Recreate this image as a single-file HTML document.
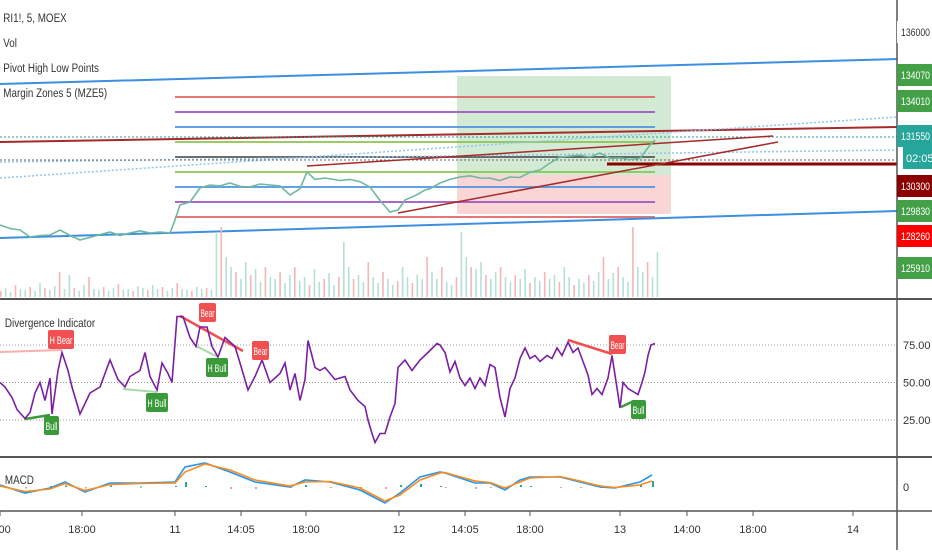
<!DOCTYPE html>
<html><head><meta charset="utf-8">
<style>
html,body{margin:0;padding:0;background:#fff;}
body{width:932px;height:550px;overflow:hidden;font-family:"Liberation Sans",sans-serif;}
svg text{font-family:"Liberation Sans",sans-serif;}
</style></head>
<body>
<svg id="chart" width="932" height="550" viewBox="0 0 932 550" xmlns="http://www.w3.org/2000/svg">
<rect x="0" y="0" width="932" height="550" fill="#ffffff"/>
<!-- margin zone boxes -->
<rect x="457" y="76" width="214" height="99" fill="#c8e6c9" opacity="0.8"/>
<rect x="457" y="175" width="214" height="39" fill="#f8d0d0" opacity="0.9"/>
<g id="overlay"></g>
<g id="volume"></g>
<g id="price"></g>
<g id="div"></g>
<g id="macd"></g>
<!-- separators -->
<line x1="0" y1="299" x2="932" y2="299" stroke="#555" stroke-width="2"/>
<line x1="0" y1="457" x2="932" y2="457" stroke="#555" stroke-width="2"/>
<line x1="0" y1="511" x2="932" y2="511" stroke="#555" stroke-width="1.5"/>
<line x1="897" y1="0" x2="897" y2="550" stroke="#555" stroke-width="1.5"/>
<g id="axes"></g>
<g font-size="12" fill="#333">
<text x="4" y="22" transform="scale(0.82,1)">RI1!, 5, MOEX</text>
<text x="4" y="47" transform="scale(0.82,1)">Vol</text>
<text x="4" y="72" transform="scale(0.82,1)">Pivot High Low Points</text>
<text x="4" y="97" transform="scale(0.82,1)">Margin Zones 5 (MZE5)</text>
<text x="6" y="327" transform="scale(0.82,1)">Divergence Indicator</text>
<text x="6" y="484" transform="scale(0.82,1)">MACD</text>
</g>
</svg>
<script>
// ---- data ----
const priceX = [0,10,20,30,40,50,60,70,80,95,110,120,130,140,150,160,170,175,180,190,200,210,220,230,240,250,260,270,280,290,300,307,315,325,340,350,360,370,380,390,398,405,415,425,430,440,450,460,470,480,490,500,510,520,530,540,550,560,570,580,590,600,610,620,630,640,650,655];
const priceVals = [127749,127600,127535,127236,127300,127322,127535,127300,127108,127279,127450,127300,127407,127500,127407,127450,127407,127963,128604,128732,129331,129459,129420,129545,129400,129374,129500,129459,129420,129032,129300,130015,129700,129758,129650,129700,129600,129374,128800,128305,128390,128818,129000,129245,129300,129545,129700,129801,129850,129758,129750,129650,129800,129780,130000,130100,130400,130656,130700,130742,130650,130827,130600,130613,130550,130600,131169,131383];
const volVals = [6,9,5,12,8,7,10,6,14,9,7,11,25,8,22,9,6,12,20,8,7,10,6,9,13,7,8,6,11,9,7,12,8,10,6,9,14,8,7,6,10,8,9,7,65,70,40,30,25,18,35,22,28,15,30,20,18,25,14,22,30,16,20,12,28,15,18,24,12,20,55,30,18,22,15,35,20,14,25,18,12,16,30,20,14,22,18,40,25,18,30,15,12,20,65,40,30,28,35,22,18,25,30,20,15,22,18,28,14,20,16,25,18,22,15,30,20,12,18,14,22,16,25,40,18,24,30,20,15,70,30,25,35,20,45];
const divX = [0,5,12,17,25,30,35,40,45,50,52,58,62,68,72,80,90,100,110,118,125,130,140,145,150,157,162,168,172,177,183,190,196,200,207,212,218,225,235,240,248,255,262,270,280,285,290,295,300,305,308,315,320,325,335,345,350,358,365,368,372,375,380,385,390,395,398,405,412,420,428,437,440,445,450,455,460,465,470,475,480,485,490,495,500,505,510,515,520,525,530,535,540,547,552,557,562,568,573,578,583,588,592,597,602,608,612,618,620,623,628,633,638,642,645,648,651,655];
const divVals = [50,47,40,32,26,30,43,50,38,53,29,58,70,58,47,29,43,47,65,52,47,54,58,70,54,45,63,56,50,94,94,80,74,87,87,74,67,80,74,63,45,54,65,50,56,63,45,56,38,52,78,60,58,60,52,54,45,38,34,25,16,10,16,16,27,36,60,65,58,65,70,76,75,70,57,64,53,48,53,46,53,48,62,60,40,27,46,53,66,73,66,68,64,68,66,73,68,77,70,73,64,55,42,46,42,53,68,42,33,50,46,44,42,50,57,68,75,76];
const divTicks = [75,50,25];
const macdX = [0,25,50,65,85,110,140,175,185,205,230,255,290,305,330,360,385,400,420,440,445,475,490,505,520,530,560,580,600,615,640,652];
const macdVals = [20,-60,-10,50,-50,40,40,50,200,240,150,50,0,70,50,-30,-160,-60,100,150,140,40,40,-30,70,100,100,50,0,-10,50,120];
const signalVals = [10,-45,-20,35,-35,25,35,40,150,230,170,70,10,50,55,-10,-140,-80,70,140,145,60,45,-10,50,90,105,60,10,-5,20,60];
const timeLabels = ["8:00","18:00","11","14:05","18:00","12","14:05","18:00","13","14:00","18:00","14"];
const timePos = [0,82,175,241,306,399,465,530,620,687,753,853];

// ---- scales ----
const yPrice = p => 32 + (136000 - p) * 0.02339;
const yDiv = v => 345 + (75 - v) * 1.5;
const yMacd = v => 487 - v * 0.1;
const NS = "http://www.w3.org/2000/svg";
function mk(tag, parent, attrs){const e=document.createElementNS(NS,tag);for(const k in attrs)e.setAttribute(k,attrs[k]);parent.appendChild(e);return e;}

// overlays
const ov = document.getElementById('overlay');
const zones = [[97,'#e06060'],[112,'#9b4fc0'],[127,'#4a90e2'],[142,'#8bc34a'],[157,'#555'],[172,'#8bc34a'],[187,'#4a90e2'],[202,'#9b4fc0'],[217,'#e06060']];
zones.forEach(z=>{
 const l=mk('line',ov,{x1:175,y1:z[0],x2:655,y2:z[0],stroke:z[1],'stroke-width':2,opacity:0.85});
 
 
});
const lines = [
 [0,84,897,59,'#3d8fe0',2,''],
 [0,238,897,211,'#3d8fe0',2,''],
 [0,142,897,127,'#a52a2a',2,''],
 [0,137,897,137,'#2a9d8f',1,'2,2'],
 [0,178,897,117,'#90c4f0',1.5,'2,2'],
 [0,162,897,150,'#90c4f0',1.5,'2,2'],
 [0,160,897,160,'#666',1,'2,2'],
 [607,164,897,164,'#8b0000',3,''],
 [307,166,773,136,'#a52a2a',1.5,''],
 [398,213,778,142,'#a52a2a',1.5,'']
];
lines.forEach(a=>{
 const l=mk('line',ov,{x1:a[0],y1:a[1],x2:a[2],y2:a[3],stroke:a[4],'stroke-width':a[5]});
 if(a[6]) l.setAttribute('stroke-dasharray',a[6]);
 
 
});

// volume
const vg=document.getElementById('volume');
volVals.forEach((h,i)=>{
 const x=i*4.9;
 const r=mk('rect',vg,{x:x,y:297-h,width:1.6,height:h,fill:(i%3===0)?'#f4b6b6':'#b6dfd6'});
 
 
});

// price
const pg=document.getElementById('price');
let pd='';priceX.forEach((x,i)=>{pd+=(i?'L':'M')+x+' '+yPrice(priceVals[i]).toFixed(1);});
const pl=mk('path',pg,{d:pd,fill:'none',stroke:'#6fb8a0','stroke-width':1.6});



// divergence
const dg=document.getElementById('div');
divTicks.forEach(t=>{
 const l=mk('line',dg,{x1:0,y1:yDiv(t),x2:897,y2:yDiv(t),stroke:'#999','stroke-width':1,'stroke-dasharray':'1,2'});
 
 
 const tx=mk('text',dg,{x:903,y:yDiv(t)+4,'font-size':11,fill:'#333'});tx.textContent=t.toFixed(2);
 
 
});
const segs=[[0,352,62,350,'#f8b0b0',2],[25,419,50,415,'#3a9a3a',2.5],[123,389,157,392,'#a8d8a8',2],[180,316,243,351,'#f05050',2.5],[196,346,218,357,'#a8d8a8',2],[568,340,612,354,'#f05050',2.5],[621,407,634,401,'#3a9a3a',2.5]];
segs.forEach(s=>{const l=mk('line',dg,{x1:s[0],y1:s[1],x2:s[2],y2:s[3],stroke:s[4],'stroke-width':s[5]});
 
 });
let dd='';divX.forEach((x,i)=>{dd+=(i?'L':'M')+x+' '+yDiv(divVals[i]).toFixed(1);});
const dl=mk('path',dg,{d:dd,fill:'none',stroke:'#7b1fa2','stroke-width':1.6});


const tags=[[48,330,26,'H Bear','#f05050'],[44,416,15,'Bull','#3a9a3a'],[146,393,22,'H Bull','#3a9a3a'],[199,303,17,'Bear','#f05050'],[206,358,22,'H Bull','#3a9a3a'],[252,341,17,'Bear','#f05050'],[609,335,17,'Bear','#f05050'],[631,400,15,'Bull','#3a9a3a']];
tags.forEach(t=>{
 const r=mk('rect',dg,{x:t[0],y:t[1],width:t[2],height:19,rx:2,fill:t[4]});
 
 
 const tx=mk('text',dg,{x:t[0]+t[2]/2,y:t[1]+14,'font-size':11,fill:'#fff','text-anchor':'middle',textLength:t[2]-3,lengthAdjust:'spacingAndGlyphs'});tx.textContent=t[3];
 
 
});

// macd
const mg=document.getElementById('macd');
macdX.forEach((x,i)=>{
 const h=(macdVals[i]-signalVals[i])*0.1;
 const r=mk('rect',mg,{x:x,y:Math.min(yMacd(0),yMacd(0)-h),width:2,height:Math.max(1,Math.abs(h)),fill:h>=0?'#26a69a':'#ef9a9a'});
 
 
});
let md='',sd='';macdX.forEach((x,i)=>{md+=(i?'L':'M')+x+' '+yMacd(macdVals[i]).toFixed(1);sd+=(i?'L':'M')+x+' '+yMacd(signalVals[i]).toFixed(1);});
const ml=mk('path',mg,{d:md,fill:'none',stroke:'#2196f3','stroke-width':1.6});


const sl=mk('path',mg,{d:sd,fill:'none',stroke:'#ff8c1a','stroke-width':1.6});


const z=mk('text',mg,{x:903,y:yMacd(0)+4,'font-size':11,fill:'#333'});z.textContent='0';



// axes
const ag=document.getElementById('axes');
timeLabels.forEach((t,i)=>{
 const x=timePos[i];
 const tk=mk('line',ag,{x1:x,y1:511,x2:x,y2:516,stroke:'#555'});
 
 
 const tx=mk('text',ag,{x:x,y:533,'font-size':11,fill:'#333','text-anchor':'middle'});tx.textContent=t;
 
 
});
const plabels=[[32,'136000','#fff','#333'],[75,'134070','#43a047','#fff'],[101,'134010','#43a047','#fff'],[136,'131550','#26a69a','#fff'],[186,'130300','#8b0000','#fff'],[211,'129830','#43a047','#fff'],[236,'128260','#f00','#fff'],[268,'125910','#43a047','#fff']];
plabels.forEach(p=>{
 const r=mk('rect',ag,{x:897,y:p[0]-11,width:35,height:22,fill:p[2]});
 
 
 const tx=mk('text',ag,{x:901,y:p[0]+4,'font-size':11,fill:p[3],textLength:29,lengthAdjust:'spacingAndGlyphs'});tx.textContent=p[1];
 
 
});
const cr=mk('rect',ag,{x:903,y:147,width:29,height:22,fill:'#26a69a'});


const ct=mk('text',ag,{x:906,y:162,'font-size':11,fill:'#fff'});ct.textContent='02:05';


</script>
</body></html>
